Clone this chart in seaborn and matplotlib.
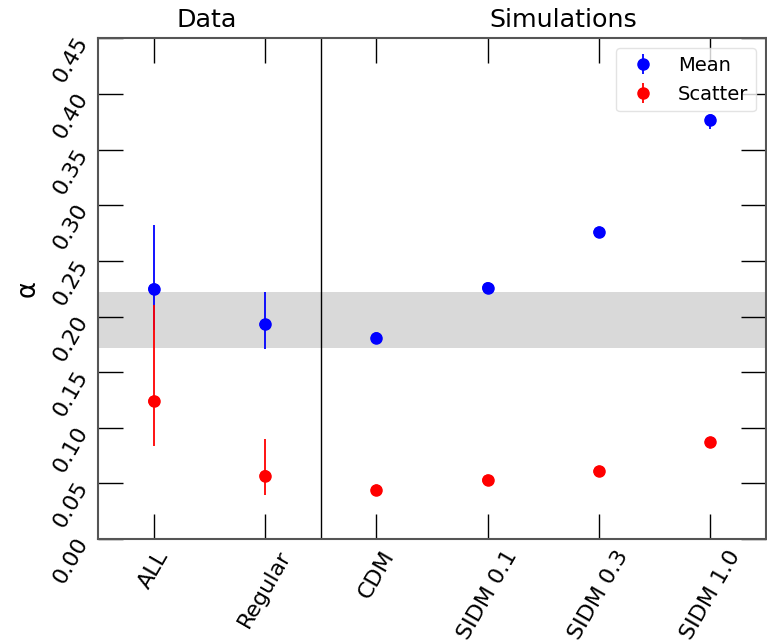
import matplotlib
matplotlib.use("Agg")
import matplotlib.pyplot as plt
import seaborn as sns
import numpy as np
import pandas as pd

# Samples along the x axis
categories = ["ALL", "Regular", "CDM", "SIDM 0.1", "SIDM 0.3", "SIDM 1.0"]

# Mean alpha with asymmetric uncertainties
mean_vals = [0.225, 0.193, 0.181, 0.226, 0.276, 0.377]
mean_err_lo = [0.037, 0.022, 0.003, 0.002, 0.004, 0.008]
mean_err_hi = [0.057, 0.029, 0.003, 0.002, 0.004, 0.001]

# Scatter in alpha with asymmetric uncertainties
scatter_vals = [0.124, 0.057, 0.044, 0.053, 0.061, 0.087]
scatter_err_lo = [0.040, 0.017, 0.001, 0.001, 0.001, 0.004]
scatter_err_hi = [0.086, 0.033, 0.001, 0.001, 0.001, 0.001]

# Observed range shown as a shaded band
band_lo, band_hi = 0.172, 0.222

sns.set_theme(style="white", rc={
    "text.color": "black",
    "axes.labelcolor": "black",
    "xtick.color": "black",
    "ytick.color": "black",
})
plt.rcParams["font.family"] = ["DejaVu Sans"]

df = pd.DataFrame({
    "category": categories,
    "pos": np.arange(len(categories)),
    "mean": mean_vals,
    "scatter": scatter_vals,
})

fig = plt.figure(figsize=(7.67, 6.41), dpi=100)
ax = fig.add_axes([0.1278, 0.1591, 0.8709, 0.7809])

ax.axhspan(band_lo, band_hi, color="#d9d9d9", lw=0, zorder=0)
ax.axvline(1.5, color="black", lw=1.0, zorder=1)

ax.errorbar(df["pos"], df["mean"], yerr=[mean_err_lo, mean_err_hi],
            fmt="o", color="blue", ms=8, elinewidth=1.3, capsize=0,
            label="Mean", zorder=3)
ax.errorbar(df["pos"], df["scatter"], yerr=[scatter_err_lo, scatter_err_hi],
            fmt="o", color="red", ms=8, elinewidth=1.3, capsize=0,
            label="Scatter", zorder=4)
sns.scatterplot(data=df, x="pos", y="mean", color="blue", s=64,
                edgecolor="none", ax=ax, zorder=5, legend=False)
sns.scatterplot(data=df, x="pos", y="scatter", color="red", s=64,
                edgecolor="none", ax=ax, zorder=5, legend=False)

ax.set_xlim(-0.5, 5.5)
ax.set_ylim(0, 0.45)
ax.set_xticks(df["pos"])
ax.set_xticklabels(categories, rotation=60, ha="center", fontsize=16)
yticks = np.round(np.arange(0, 0.451, 0.05), 2)
ax.set_yticks(yticks)
ax.set_yticklabels([f"{v:.2f}" for v in yticks], rotation=60,
                   ha="right", va="center", rotation_mode="anchor",
                   fontsize=16)
ax.set_xlabel("")
ax.set_ylabel("α", fontsize=18.5)
ax.yaxis.set_label_coords(-0.086, 0.5)

ax.tick_params(axis="both", which="major", direction="in", length=18,
               width=1.0, color="black", top=True, right=True,
               left=True, bottom=True)
ax.tick_params(axis="x", pad=6)
ax.tick_params(axis="y", pad=11)

for side in ax.spines.values():
    side.set_color("#555555")
    side.set_linewidth(1.5)

ax.text(0.48, 1.012, "Data", transform=ax.get_xaxis_transform(),
        ha="center", va="bottom", fontsize=18.3)
ax.text(3.68, 1.012, "Simulations", transform=ax.get_xaxis_transform(),
        ha="center", va="bottom", fontsize=18.3)

ax.legend(loc="upper right", fontsize=14, handletextpad=0.8,
          borderpad=0.4, frameon=True, fancybox=True, framealpha=0.8,
          edgecolor="#dddddd")

fig.savefig("out.png", dpi=100)
